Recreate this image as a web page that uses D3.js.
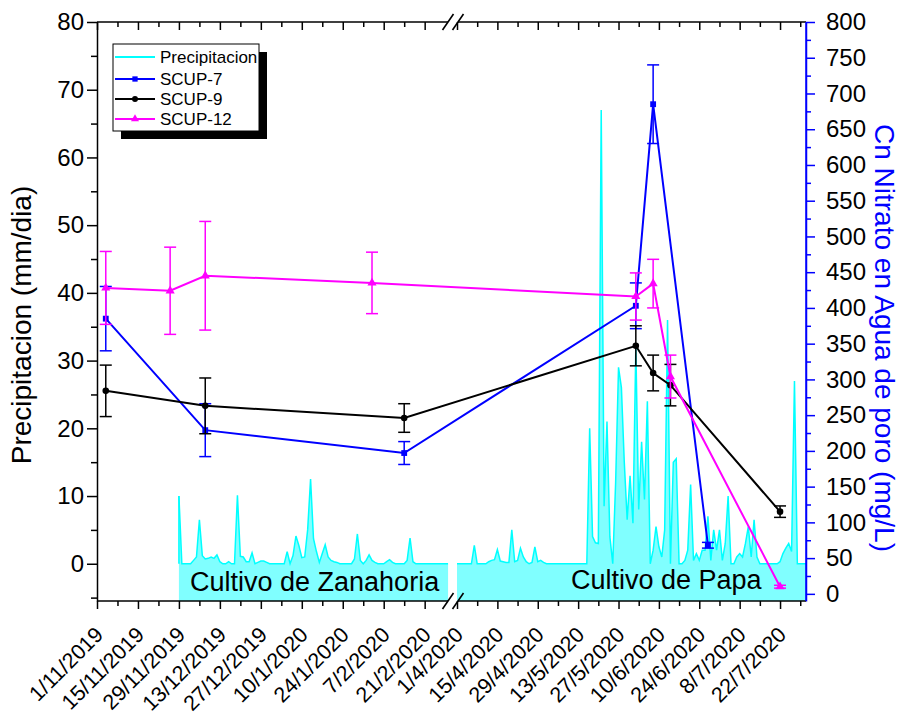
<!DOCTYPE html>
<html>
<head>
<meta charset="utf-8">
<script src="https://cdn.jsdelivr.net/npm/d3@7"></script>
<style>
  body { margin: 0; background: #fff; }
  text { font-family: "Liberation Sans", Arial, sans-serif; }
</style>
</head>
<body>
<script>

// precipitation, daily values (mm/dia)
var precipZanahoriaStart = "2019-11-29"
var precipZanahoria = [
  10,0,0,0,0,0.5,1,6.5,1.2,0.7,
  0.8,1.0,0.8,1.3,0.3,0,0,0.3,0,0,
  10.1,1.1,1.0,0.3,0.3,1.6,0,0.2,0.4,0.4,
  0.2,0,0,0,0,0,0,1.8,0,1.2,
  4.1,2.7,0.9,1,5,12.5,3.7,1.8,0.2,1.5,
  2.8,1.0,0.5,0.3,0.2,0,0,0,0,0,
  0.7,4.4,0.5,0,0.5,1.3,0.5,0.2,0,0,
  0,0.3,0.6,0.2,0,0,0,0,0.5,3.8,
  0.3,0,0,0,0,0,0,0,0,0,
  0,0,0
]
var precipPapaStart = "2020-04-01"
var precipPapa = [
  0,0,0,0,0,0,2.7,0,0,0,
  0,0.3,0.5,0.6,2.1,0.4,0.3,0.2,0.2,5.0,
  0.3,0.5,2.3,1.0,0.3,0,0.2,2.5,0.3,0.5,
  0.2,0,0,0,0,0,0,0,0,0,
  0,0,0,0,0,0,20,4,3.1,3,
  67,8.5,21,4,0,12,29,26,15,6.5,
  13,6,32,8,18,9.5,24,0,2,5.5,
  2.5,1,5,36,0,15,15.5,0,0,0.5,
  2,11.7,0.5,1.5,0.5,2,2,7,0.5,5,
  2,5,0.5,3,10,0,0,1,1.5,1,
  3,5.5,1,6.5,1,0,0,0,0,0,
  0,0,0.3,1.5,2.3,3,1.8,27,0,0,
  0,0
]

// nitrate in pore water (mg/L)
var scup7Dates  = ["2019-11-04","2019-12-08","2020-02-14","2020-06-02","2020-06-08","2020-06-27"]
var scup7Values = [385, 229, 197, 403, 685, 68]
var scup7Err    = [45, 37, 16, 32, 55, 4]

var scup9Dates  = ["2019-11-04","2019-12-08","2020-02-14","2020-06-02","2020-06-08","2020-06-14","2020-07-22"]
var scup9Values = [284, 263, 246, 347, 309, 292, 115]
var scup9Err    = [36, 39, 20, 28, 25, 29, 8]

var scup12Dates  = ["2019-11-04","2019-11-26","2019-12-08","2020-02-03","2020-06-02","2020-06-08","2020-06-14","2020-07-22"]
var scup12Values = [428, 424, 445, 435, 416, 434, 304, 10]
var scup12Err    = [51, 61, 76, 43, 33, 34, 30, 2]

// x tick labels
var majorTicks = ["2019-11-01","2019-11-15","2019-11-29","2019-12-13","2019-12-27","2020-01-10","2020-01-24","2020-02-07","2020-02-21",
                  "2020-04-01","2020-04-15","2020-04-29","2020-05-13","2020-05-27","2020-06-10","2020-06-24","2020-07-08","2020-07-22"]
var minorTicks = ["2019-11-08","2019-11-22","2019-12-06","2019-12-20","2020-01-03","2020-01-17","2020-01-31","2020-02-14",
                  "2020-04-08","2020-04-22","2020-05-06","2020-05-20","2020-06-03","2020-06-17","2020-07-01","2020-07-15","2020-07-29"]

var parse = d3.timeParse("%Y-%m-%d")
var fmt = d3.timeFormat("%-d/%-m/%Y")

var xLeft = 97, xRight = 806, yTop = 22, yBottom = 601
var breakA = 448, breakB = 458

var svg = d3.select("body").append("svg")
  .attr("width", 903)
  .attr("height", 717)

/* SCALES */

var x = d3.scaleTime()
  .domain([parse("2019-11-01"), parse("2020-03-01"), parse("2020-04-01"), parse("2020-07-31")])
  .range([xLeft, 451, 457, xRight])

var yL = d3.scaleLinear().domain([-5.5, 80]).range([yBottom, yTop])
var yR = d3.scaleLinear().domain([-10, 800]).range([yBottom, yTop])

/* PRECIPITATION */

function dailySeries(start, values) {
  var d0 = parse(start)
  return values.map(function(v, i) {
    return { date: d3.timeDay.offset(d0, i), v: v }
  })
}

var area = d3.area()
  .x(function(d) { return x(d.date) })
  .y0(yBottom)
  .y1(function(d) { return yL(d.v) })

var line = d3.line()
  .x(function(d) { return x(d.date) })
  .y(function(d) { return yL(d.v) })

;[dailySeries(precipZanahoriaStart, precipZanahoria), dailySeries(precipPapaStart, precipPapa)].forEach(function(s) {
  svg.append("path").datum(s)
    .attr("d", area)
    .attr("fill", "#80ffff")
  svg.append("path").datum(s)
    .attr("d", line)
    .attr("fill", "none")
    .attr("stroke", "#00ffff")
    .attr("stroke-width", 1.5)
  // vertical edge at the start of the series
  svg.append("line")
    .attr("x1", x(s[0].date)).attr("x2", x(s[0].date))
    .attr("y1", yL(0)).attr("y2", yL(s[0].v))
    .attr("stroke", "#00ffff").attr("stroke-width", 1.5)
})

svg.append("text")
  .attr("x", 190).attr("y", 591)
  .attr("font-size", "27px")
  .text("Cultivo de Zanahoria")

svg.append("text")
  .attr("x", 571).attr("y", 589)
  .attr("font-size", "27px")
  .text("Cultivo de Papa")

/* NITRATE SERIES */

function drawSeries(dates, values, errs, color, marker) {
  var data = dates.map(function(d, i) {
    return { date: parse(d), v: values[i], e: errs[i] }
  })

  svg.append("path").datum(data)
    .attr("d", d3.line().x(function(d) { return x(d.date) }).y(function(d) { return yR(d.v) }))
    .attr("fill", "none")
    .attr("stroke", color)
    .attr("stroke-width", 2)

  var eb = svg.append("g")
    .attr("stroke", color)
    .attr("stroke-width", 1.5)
  data.forEach(function(d) {
    var cx = x(d.date)
    eb.append("line").attr("x1", cx).attr("x2", cx).attr("y1", yR(d.v - d.e)).attr("y2", yR(d.v + d.e))
    eb.append("line").attr("x1", cx - 6).attr("x2", cx + 6).attr("y1", yR(d.v - d.e)).attr("y2", yR(d.v - d.e))
    eb.append("line").attr("x1", cx - 6).attr("x2", cx + 6).attr("y1", yR(d.v + d.e)).attr("y2", yR(d.v + d.e))
  })

  svg.selectAll(null)
    .data(data)
    .enter()
    .append("path")
    .attr("transform", function(d) { return "translate(" + x(d.date) + "," + yR(d.v) + ")" })
    .attr("d", d3.symbol().type(marker).size(marker == d3.symbolTriangle ? 36 : 34))
    .attr("fill", color)
}

drawSeries(scup7Dates, scup7Values, scup7Err, "#0000ff", d3.symbolSquare)
drawSeries(scup9Dates, scup9Values, scup9Err, "#000000", d3.symbolCircle)
drawSeries(scup12Dates, scup12Values, scup12Err, "#ff00ff", d3.symbolTriangle)

/* AXES */

var fontStack = "'Liberation Sans', Arial, sans-serif"

// left
svg.append("g")
  .attr("transform", "translate(" + xLeft + ",0)")
  .call(d3.axisLeft(yL).tickValues(d3.range(0, 81, 10)).tickSize(10).tickSizeOuter(0).tickPadding(3))
  .call(function(g) {
    g.selectAll("text").attr("font-size", "24px").attr("fill", "#000").style("font-family", fontStack)
    g.selectAll("line, path").attr("stroke-width", 1.5)
  })
svg.append("g")
  .attr("transform", "translate(" + xLeft + ",0)")
  .call(d3.axisLeft(yL).tickValues(d3.range(-5, 80, 10)).tickSize(6).tickFormat(""))
  .call(function(g) { g.select(".domain").remove(); g.selectAll("line").attr("stroke-width", 1.5) })

// right
svg.append("g")
  .attr("transform", "translate(" + xRight + ",0)")
  .call(d3.axisRight(yR).tickValues(d3.range(0, 801, 50)).tickSize(9).tickSizeOuter(0).tickPadding(11))
  .call(function(g) {
    g.selectAll("line, path").attr("stroke", "#0000ff").attr("stroke-width", 1.5)
    g.selectAll("text").attr("font-size", "24px").attr("fill", "#000").style("font-family", fontStack)
  })
svg.append("g")
  .attr("transform", "translate(" + xRight + ",0)")
  .call(d3.axisRight(yR).tickValues(d3.range(25, 800, 50)).tickSize(5).tickFormat(""))
  .call(function(g) { g.select(".domain").remove(); g.selectAll("line").attr("stroke", "#0000ff").attr("stroke-width", 1.5) })

// bottom
svg.append("g")
  .attr("transform", "translate(0," + yBottom + ")")
  .call(d3.axisBottom(x).tickValues(majorTicks.map(parse)).tickSize(8).tickFormat(fmt))
  .call(function(g) {
    g.select(".domain").remove()
    g.selectAll("line").attr("stroke-width", 1.5)
    g.selectAll("text")
      .attr("x", 0).attr("y", 0).attr("dy", 0)
      .attr("text-anchor", "end")
      .attr("transform", "translate(7,35) rotate(-45)")
      .attr("font-size", "21.5px").attr("fill", "#000")
      .style("font-family", fontStack)
  })
svg.append("g")
  .attr("transform", "translate(0," + yBottom + ")")
  .call(d3.axisBottom(x).tickValues(minorTicks.map(parse)).tickSize(5).tickFormat(""))
  .call(function(g) { g.select(".domain").remove(); g.selectAll("line").attr("stroke-width", 1.5) })

// top (ticks inward)
svg.append("g")
  .attr("transform", "translate(0," + yTop + ")")
  .call(d3.axisTop(x).tickValues(majorTicks.map(parse)).tickSize(-8).tickFormat(""))
  .call(function(g) { g.select(".domain").remove(); g.selectAll("line").attr("stroke-width", 1.5) })
svg.append("g")
  .attr("transform", "translate(0," + yTop + ")")
  .call(d3.axisTop(x).tickValues(minorTicks.map(parse)).tickSize(-5).tickFormat(""))
  .call(function(g) { g.select(".domain").remove(); g.selectAll("line").attr("stroke-width", 1.5) })

// frame lines with break
;[yTop, yBottom].forEach(function(yy) {
  svg.append("line").attr("x1", xLeft).attr("x2", breakA).attr("y1", yy).attr("y2", yy)
    .attr("stroke", "#000").attr("stroke-width", 1.5)
  svg.append("line").attr("x1", breakB).attr("x2", xRight).attr("y1", yy).attr("y2", yy)
    .attr("stroke", "#000").attr("stroke-width", 1.5)
  ;[breakA, breakB].forEach(function(bx) {
    svg.append("line")
      .attr("x1", bx - 5.5).attr("y1", yy + 8)
      .attr("x2", bx + 5.5).attr("y2", yy - 8)
      .attr("stroke", "#000").attr("stroke-width", 1.6)
  })
})
// right axis line drawn again on top (blue)
svg.append("line").attr("x1", xRight).attr("x2", xRight).attr("y1", yTop).attr("y2", yBottom)
  .attr("stroke", "#0000ff").attr("stroke-width", 1.5)

/* TITLES */

svg.append("text")
  .attr("transform", "translate(31,325) rotate(-90)")
  .attr("text-anchor", "middle")
  .attr("font-size", "28px")
  .text("Precipitacion (mm/dia)")

svg.append("text")
  .attr("transform", "translate(875,338) rotate(90)")
  .attr("text-anchor", "middle")
  .attr("font-size", "28px")
  .attr("fill", "#0000ff")
  .text("Cn Nitrato en Agua de poro (mg/L)")

/* LEGEND */

var legend = svg.append("g").attr("transform", "translate(113,44)")
legend.append("rect").attr("x", 8).attr("y", 8).attr("width", 146).attr("height", 87).attr("fill", "#000")
legend.append("rect").attr("x", 0).attr("y", 0).attr("width", 146).attr("height", 87)
  .attr("fill", "#fff").attr("stroke", "#000").attr("stroke-width", 1)

var legendItems = [
  { name: "Precipitacion", color: "#00ffff", marker: null },
  { name: "SCUP-7", color: "#0000ff", marker: d3.symbolSquare },
  { name: "SCUP-9", color: "#000000", marker: d3.symbolCircle },
  { name: "SCUP-12", color: "#ff00ff", marker: d3.symbolTriangle }
]
var legendRows = [13, 35, 55, 75]

legendItems.forEach(function(item, i) {
  var ly = legendRows[i]
  legend.append("line").attr("x1", 2).attr("x2", 42).attr("y1", ly).attr("y2", ly)
    .attr("stroke", item.color).attr("stroke-width", 2)
  if (item.marker) {
    legend.append("path")
      .attr("transform", "translate(22," + ly + ")")
      .attr("d", d3.symbol().type(item.marker).size(28))
      .attr("fill", item.color)
  }
  legend.append("text")
    .attr("x", 47).attr("y", ly).attr("dy", "0.35em")
    .attr("font-size", "17px")
    .text(item.name)
})

</script>
</body>
</html>
